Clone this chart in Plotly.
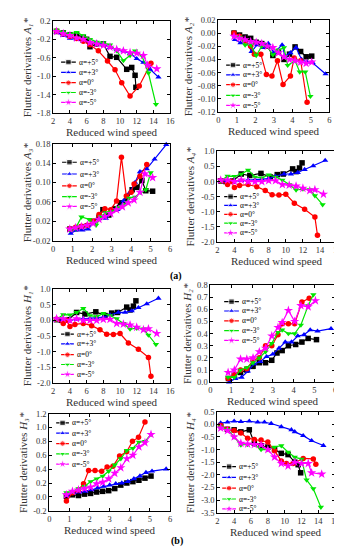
import plotly.graph_objects as go

W, H = 342, 550

# ---------------- data ----------------
series_names = ["α=+5°", "α=+3°", "α=0°", "α=-3°", "α=-5°"]
colors = ["#000000", "#0000FF", "#FF0000", "#00E600", "#FF00FF"]
symbols = ["square", "triangle-up", "circle", "triangle-down", "star"]

# A1*
a1_x_p5 = [2.4, 3.2, 4.0, 4.8, 5.6, 6.0, 6.4, 7.2, 8.0, 8.8, 9.6, 10.8, 11.4, 11.8, 11.9]
a1_y_p5 = [-0.03, -0.06, -0.1, -0.1, -0.16, -0.2, -0.36, -0.3, -0.3, -0.57, -0.59, -0.85, -0.81, -0.98, -1.24]
a1_x_p3 = [2.4, 3.2, 4.0, 4.8, 5.6, 6.4, 7.2, 8.0, 8.8, 9.6, 10.4, 11.2, 12.0, 12.8, 13.6, 14.6]
a1_y_p3 = [-0.05, -0.12, -0.18, -0.2, -0.25, -0.3, -0.27, -0.3, -0.38, -0.42, -0.45, -0.5, -0.62, -0.7, -0.85, -1.02]
a1_x_0 = [2.4, 3.2, 4.0, 4.8, 5.6, 6.4, 7.4, 8.5, 9.4, 10.2, 11.2, 12.3, 13.7]
a1_y_0 = [-0.02, -0.08, -0.14, -0.18, -0.24, -0.32, -0.45, -0.67, -0.86, -1.14, -1.43, -1.21, -0.72]
a1_x_m3 = [2.4, 3.2, 4.0, 4.8, 5.6, 6.4, 7.2, 8.0, 8.8, 9.6, 10.4, 11.2, 11.8, 12.6, 13.4, 14.3]
a1_y_m3 = [0.0, -0.04, -0.08, -0.05, -0.12, -0.2, -0.26, -0.28, -0.32, -0.45, -0.66, -0.55, -0.45, -0.55, -0.93, -1.61]
a1_x_m5 = [2.4, 3.2, 4.0, 4.8, 5.6, 6.4, 7.2, 8.0, 8.8, 9.6, 10.4, 11.2, 12.0, 12.8, 13.3, 14.4]
a1_y_m5 = [-0.03, -0.08, -0.12, -0.17, -0.2, -0.27, -0.3, -0.33, -0.37, -0.42, -0.45, -0.49, -0.5, -0.55, -0.76, -0.84]

# A2*
a2_x_p5 = [0.85, 1.15, 1.45, 1.75, 2.05, 2.35, 2.65, 2.95, 3.25, 3.55, 3.85, 4.15, 4.45, 4.75, 5.05]
a2_y_p5 = [0.0, -0.003, -0.006, -0.008, -0.014, -0.016, -0.02, -0.034, -0.028, -0.04, -0.032, -0.021, -0.028, -0.036, -0.035]
a2_x_p3 = [0.9, 1.2, 1.5, 1.8, 2.1, 2.4, 2.7, 3.0, 3.45, 3.6, 3.9, 4.2, 4.5, 4.8, 5.1, 5.8]
a2_y_p3 = [-0.01, -0.015, -0.012, -0.028, -0.018, -0.022, -0.016, -0.03, -0.018, -0.035, -0.03, -0.022, -0.04, -0.044, -0.045, -0.062]
a2_x_0 = [0.85, 1.15, 1.45, 1.75, 1.95, 2.3, 2.6, 2.9, 3.2, 3.5, 3.9, 4.1, 4.45, 4.8]
a2_y_0 = [0.0, -0.005, -0.012, -0.02, -0.032, -0.032, -0.063, -0.065, -0.042, -0.078, -0.065, -0.038, -0.042, -0.105]
a2_x_m3 = [0.85, 1.15, 1.45, 1.75, 2.05, 2.35, 2.65, 2.95, 3.25, 3.55, 3.75, 4.15, 4.4, 4.7, 4.98]
a2_y_m3 = [-0.005, -0.006, -0.018, -0.018, -0.034, -0.02, -0.02, -0.033, -0.026, -0.022, -0.049, -0.042, -0.059, -0.059, -0.096]
a2_x_m5 = [0.85, 1.15, 1.45, 1.75, 2.05, 2.35, 2.65, 2.95, 3.25, 3.55, 3.85, 4.15, 4.45, 4.75, 5.05]
a2_y_m5 = [-0.005, -0.008, -0.01, -0.013, -0.014, -0.016, -0.02, -0.022, -0.03, -0.036, -0.04, -0.042, -0.044, -0.046, -0.044]

# A3*
a3_x_p5 = [0.85, 1.15, 1.45, 1.75, 2.05, 2.35, 2.55, 2.85, 3.15, 3.45, 3.75, 4.05, 4.3, 4.55, 4.75, 5.1]
a3_y_p5 = [0.004, 0.005, 0.008, 0.011, 0.02, 0.028, 0.044, 0.033, 0.046, 0.058, 0.062, 0.085, 0.09, 0.104, 0.083, 0.082]
a3_x_p3 = [0.9, 1.2, 1.5, 1.8, 2.1, 2.4, 2.7, 3.0, 3.3, 3.6, 3.9, 4.2, 4.45, 4.8, 5.2, 5.8]
a3_y_p3 = [-0.005, 0.002, 0.002, 0.004, 0.02, 0.03, 0.026, 0.04, 0.044, 0.062, 0.078, 0.1, 0.122, 0.128, 0.148, 0.178]
a3_x_0 = [0.85, 1.15, 1.45, 1.75, 2.05, 2.35, 2.65, 2.95, 3.25, 3.5, 3.75, 4.0, 4.15, 4.45, 4.8]
a3_y_0 = [0.004, 0.008, 0.01, 0.012, 0.02, 0.034, 0.046, 0.044, 0.062, 0.152, 0.072, 0.08, 0.097, 0.113, 0.137]
a3_x_m3 = [0.85, 1.15, 1.45, 1.85, 2.2, 2.45, 2.7, 3.0, 3.3, 3.6, 3.9, 4.2, 4.5, 4.75, 5.0]
a3_y_m3 = [0.002, 0.006, 0.029, 0.024, 0.012, 0.03, 0.038, 0.04, 0.048, 0.052, 0.068, 0.07, 0.08, 0.085, 0.12]
a3_x_m5 = [0.85, 1.15, 1.45, 1.75, 2.05, 2.35, 2.65, 2.95, 3.25, 3.55, 3.85, 4.15, 4.45, 4.7, 5.1]
a3_y_m5 = [0.004, 0.007, 0.009, 0.012, 0.016, 0.024, 0.03, 0.036, 0.044, 0.05, 0.058, 0.064, 0.08, 0.118, 0.11]

# A4*
a4_x_p5 = [2.4, 3.0, 3.8, 4.8, 5.8, 7.1, 8.2, 9.0, 9.7, 10.8, 11.2, 11.6, 11.9]
a4_y_p5 = [0.02, 0.0, 0.02, 0.25, 0.2, 0.27, 0.15, 0.23, 0.25, 0.42, 0.33, 0.45, 0.62]
a4_x_p3 = [2.4, 3.2, 4.0, 4.8, 5.6, 6.4, 7.2, 8.0, 8.8, 9.8, 10.6, 11.4, 12.2, 13.2, 14.6]
a4_y_p3 = [0.0, 0.0, 0.02, 0.03, 0.05, 0.06, 0.08, 0.1, 0.17, 0.25, 0.25, 0.3, 0.4, 0.52, 0.7]
a4_x_0 = [2.4, 3.2, 3.6, 4.0, 4.6, 5.6, 6.6, 7.6, 8.4, 9.2, 10.0, 11.0, 12.2, 13.4, 13.7]
a4_y_0 = [0.03, -0.1, 0.0, -0.2, -0.13, -0.1, -0.17, -0.3, -0.44, -0.45, -0.42, -0.72, -0.92, -1.18, -1.78]
a4_x_m3 = [2.4, 3.2, 4.0, 4.8, 5.6, 6.4, 7.2, 8.0, 8.8, 9.6, 10.4, 11.2, 12.0, 12.8, 13.4, 14.3]
a4_y_m3 = [0.03, 0.18, 0.17, 0.25, 0.38, 0.15, 0.12, 0.22, 0.15, 0.05, -0.1, -0.28, -0.25, -0.27, -0.47, -0.77]
a4_x_m5 = [2.4, 3.2, 4.0, 4.8, 5.6, 6.4, 7.2, 8.0, 8.8, 9.6, 10.4, 11.2, 12.0, 12.8, 13.4, 14.4]
a4_y_m5 = [0.05, 0.05, 0.0, 0.05, 0.0, 0.0, 0.0, 0.03, 0.03, -0.1, -0.12, -0.15, -0.22, -0.3, -0.27, -0.42]

# H1*
h1_x_p5 = [2.4, 3.0, 3.8, 4.8, 5.8, 7.1, 8.2, 9.0, 9.7, 10.8, 11.2, 11.6, 11.9]
h1_y_p5 = [0.02, 0.0, 0.02, 0.25, 0.2, 0.27, 0.15, 0.23, 0.25, 0.42, 0.33, 0.45, 0.62]
h1_x_p3 = [2.4, 3.2, 4.0, 4.8, 5.6, 6.4, 7.2, 8.0, 8.8, 9.8, 10.6, 11.4, 12.2, 13.2, 14.6]
h1_y_p3 = [0.0, 0.0, 0.02, 0.03, 0.05, 0.06, 0.08, 0.1, 0.17, 0.25, 0.25, 0.3, 0.4, 0.52, 0.7]
h1_x_0 = [2.4, 3.2, 3.6, 4.0, 4.6, 5.6, 6.6, 7.6, 8.4, 9.2, 10.0, 11.0, 12.2, 13.4, 13.7]
h1_y_0 = [0.03, -0.1, 0.0, -0.2, -0.13, -0.1, -0.17, -0.3, -0.44, -0.45, -0.42, -0.72, -0.92, -1.18, -1.78]
h1_x_m3 = [2.4, 3.2, 4.0, 4.8, 5.6, 6.4, 7.2, 8.0, 8.8, 9.6, 10.4, 11.2, 12.0, 12.8, 13.4, 14.3]
h1_y_m3 = [0.03, 0.18, 0.17, 0.25, 0.38, 0.15, 0.12, 0.22, 0.15, 0.05, -0.1, -0.28, -0.25, -0.27, -0.47, -0.77]
h1_x_m5 = [2.4, 3.2, 4.0, 4.8, 5.6, 6.4, 7.2, 8.0, 8.8, 9.6, 10.4, 11.2, 12.0, 12.8, 13.4, 14.4]
h1_y_m5 = [0.05, 0.05, 0.0, 0.05, 0.0, 0.0, 0.0, 0.03, 0.03, -0.1, -0.12, -0.15, -0.22, -0.3, -0.27, -0.42]

# H2*
h2_x_p5 = [0.87, 1.15, 1.45, 1.75, 2.05, 2.35, 2.65, 2.95, 3.2, 3.45, 3.75, 4.1, 4.4, 4.7, 5.1]
h2_y_p5 = [0.03, 0.06, 0.08, 0.1, 0.13, 0.16, 0.16, 0.18, 0.24, 0.26, 0.3, 0.31, 0.33, 0.36, 0.35]
h2_x_p3 = [0.9, 1.2, 1.5, 1.8, 2.1, 2.4, 2.7, 3.0, 3.3, 3.6, 3.9, 4.2, 4.5, 4.8, 5.15, 5.8]
h2_y_p3 = [0.0, 0.03, 0.04, 0.09, 0.15, 0.17, 0.21, 0.23, 0.28, 0.33, 0.33, 0.38, 0.39, 0.43, 0.42, 0.44]
h2_x_0 = [0.85, 1.15, 1.45, 1.75, 2.05, 2.35, 2.65, 2.95, 3.25, 3.45, 3.75, 4.05, 4.4, 4.75]
h2_y_0 = [0.03, 0.06, 0.1, 0.11, 0.18, 0.2, 0.3, 0.3, 0.39, 0.48, 0.48, 0.48, 0.66, 0.69]
h2_x_m3 = [0.85, 1.15, 1.45, 1.75, 2.05, 2.35, 2.65, 2.95, 3.25, 3.45, 3.75, 4.05, 4.35, 4.7, 4.95]
h2_y_m3 = [0.04, 0.04, 0.1, 0.12, 0.16, 0.2, 0.25, 0.32, 0.41, 0.43, 0.4, 0.4, 0.47, 0.63, 0.72]
h2_x_m5 = [0.85, 1.15, 1.45, 1.75, 2.05, 2.35, 2.65, 2.95, 3.25, 3.45, 3.75, 4.05, 4.35, 4.7, 5.05]
h2_y_m5 = [0.08, 0.1, 0.19, 0.19, 0.2, 0.25, 0.28, 0.38, 0.45, 0.49, 0.59, 0.5, 0.63, 0.62, 0.67]

# H3*
h3_x_p5 = [0.85, 1.15, 1.45, 1.75, 2.05, 2.35, 2.65, 2.95, 3.25, 3.55, 3.85, 4.15, 4.45, 4.75, 5.05]
h3_y_p5 = [0.01, 0.03, 0.02, 0.04, 0.05, 0.07, 0.08, 0.09, 0.12, 0.17, 0.2, 0.22, 0.24, 0.27, 0.3]
h3_x_p3 = [0.9, 1.2, 1.5, 1.8, 2.1, 2.4, 2.7, 3.0, 3.3, 3.6, 3.9, 4.2, 4.5, 4.8, 5.1, 5.8]
h3_y_p3 = [0.02, 0.06, 0.07, 0.08, 0.1, 0.13, 0.15, 0.17, 0.19, 0.2, 0.22, 0.26, 0.3, 0.35, 0.37, 0.4]
h3_x_0 = [0.85, 1.15, 1.45, 1.7, 1.95, 2.27, 2.6, 2.87, 3.16, 3.49, 3.84, 4.13, 4.43, 4.75]
h3_y_0 = [-0.06, 0.06, 0.1, 0.19, 0.38, 0.38, 0.37, 0.43, 0.44, 0.59, 0.65, 0.8, 0.86, 1.08]
h3_x_m3 = [0.85, 1.15, 1.45, 1.75, 2.05, 2.35, 2.65, 2.95, 3.25, 3.55, 3.85, 4.15, 4.45, 4.75, 5.05]
h3_y_m3 = [0.06, 0.08, 0.12, 0.15, 0.22, 0.26, 0.3, 0.37, 0.46, 0.55, 0.67, 0.7, 0.79, 0.8, 0.9]
h3_x_m5 = [0.85, 1.15, 1.45, 1.75, 2.05, 2.35, 2.65, 2.95, 3.25, 3.55, 3.85, 4.15, 4.45, 4.75, 5.05]
h3_y_m5 = [0.03, 0.08, 0.1, 0.12, 0.14, 0.19, 0.21, 0.26, 0.34, 0.42, 0.55, 0.6, 0.72, 0.78, 0.9]

# H4*
h4_x_p5 = [2.4, 3.2, 4.0, 4.8, 5.8, 6.4, 7.2, 8.0, 8.8, 9.6, 10.4, 11.2, 11.6, 11.9]
h4_y_p5 = [-0.05, -0.2, -0.22, -0.3, -0.22, -0.75, -0.85, -0.9, -1.0, -1.15, -1.2, -1.5, -1.6, -1.92]
h4_x_p3 = [2.4, 3.2, 4.0, 4.8, 5.8, 6.8, 7.6, 8.4, 9.6, 10.8, 11.2, 12.2, 13.2, 14.6]
h4_y_p3 = [0.05, 0.08, 0.12, 0.1, 0.12, 0.08, 0.08, 0.03, -0.1, -0.22, -0.3, -0.45, -0.65, -0.84]
h4_x_0 = [2.4, 3.2, 4.0, 4.8, 5.6, 6.4, 7.2, 8.0, 8.8, 9.6, 10.2, 11.0, 12.2, 13.4, 13.7]
h4_y_0 = [-0.05, -0.2, -0.25, -0.35, -0.55, -0.6, -0.62, -0.7, -1.05, -1.45, -1.55, -1.55, -1.35, -1.37, -1.58]
h4_x_m3 = [2.4, 3.2, 4.0, 4.8, 5.6, 6.4, 7.2, 8.0, 8.8, 9.6, 10.4, 11.2, 12.0, 12.6, 13.4, 14.3]
h4_y_m3 = [-0.1, -0.2, -0.5, -0.82, -0.8, -0.8, -1.0, -1.0, -0.9, -0.85, -1.1, -1.3, -1.38, -2.2, -2.55, -3.28]
h4_x_m5 = [2.4, 3.2, 4.0, 4.8, 5.6, 6.4, 7.2, 8.0, 8.8, 9.6, 10.4, 11.2, 12.0, 12.8, 13.2, 14.4]
h4_y_m5 = [-0.15, -0.25, -0.5, -0.75, -0.78, -0.8, -0.82, -1.0, -1.3, -1.55, -1.65, -1.5, -1.55, -1.55, -1.92, -1.97]

# tick labels
xt_wide = [2, 4, 6, 8, 10, 12, 14, 16]
xt_narrow = [0, 1, 2, 3, 4, 5, 6]
yt_a1 = [0.2, -0.2, -0.6, -1.0, -1.4, -1.8]
yt_a2 = [0.02, 0.0, -0.02, -0.04, -0.06, -0.08, -0.10, -0.12]
yt_a3 = [0.18, 0.14, 0.10, 0.06, 0.02, -0.02]
yt_a4 = [1.0, 0.5, 0.0, -0.5, -1.0, -1.5, -2.0]
yt_h1 = [1.0, 0.5, 0.0, -0.5, -1.0, -1.5, -2.0]
yt_h2 = [0.0, 0.1, 0.2, 0.3, 0.4, 0.5, 0.6, 0.7, 0.8]
yt_h3 = [-0.2, 0.0, 0.2, 0.4, 0.6, 0.8, 1.0, 1.2]
yt_h4 = [0.5, 0.0, -0.5, -1.0, -1.5, -2.0, -2.5, -3.0, -3.5]

x_title = "Reduced wind speed"
y_title = "Flutter derivatives <i>%s%s*</i>"

# ---------------- layout of panels (pixel boxes) ----------------
FONT = "Liberation Serif"

panels = [
    dict(box=(44, 163, 8, 102), xr=(2, 16), yr=(-1.8, 0.2), xt=xt_wide, yt=yt_a1, dec=1, sym="A", sub="₁",
         xs=[a1_x_p5, a1_x_p3, a1_x_0, a1_x_m3, a1_x_m5], ys=[a1_y_p5, a1_y_p3, a1_y_0, a1_y_m3, a1_y_m5],
         leg_rows=[50, 60.5, 71, 81, 91], leg_x=(52, 67), ytx=17.5),
    dict(box=(212, 325, 7, 101), xr=(0, 6), yr=(-0.12, 0.02), xt=xt_narrow, yt=yt_a2, dec=2, sym="A", sub="₂",
         xs=[a2_x_p5, a2_x_p3, a2_x_0, a2_x_m3, a2_x_m5], ys=[a2_y_p5, a2_y_p3, a2_y_0, a2_y_m3, a2_y_m5],
         leg_rows=[53, 63, 73, 84, 94], leg_x=(220, 234), ytx=181.5),
    dict(box=(44, 163, 133, 232), xr=(0, 6), yr=(-0.02, 0.18), xt=xt_narrow, yt=yt_a3, dec=2, sym="A", sub="₃",
         xs=[a3_x_p5, a3_x_p3, a3_x_0, a3_x_m3, a3_x_m5], ys=[a3_y_p5, a3_y_p3, a3_y_0, a3_y_m3, a3_y_m5],
         leg_rows=[152, 164, 176, 187, 197], leg_x=(53, 68), ytx=17.5),
    dict(box=(211, 333, 141, 233), xr=(2, 16), yr=(-2.0, 1.0), xt=xt_wide, yt=yt_a4, dec=1, sym="A", sub="₄",
         xs=[a4_x_p5, a4_x_p3, a4_x_0, a4_x_m3, a4_x_m5], ys=[a4_y_p5, a4_y_p3, a4_y_0, a4_y_m3, a4_y_m5],
         leg_rows=[187, 196, 205, 214, 224], leg_x=(218, 231), ytx=183),
    dict(box=(44, 163, 281, 377), xr=(2, 16), yr=(-2.0, 1.0), xt=xt_wide, yt=yt_h1, dec=1, sym="H", sub="₁",
         xs=[h1_x_p5, h1_x_p3, h1_x_0, h1_x_m3, h1_x_m5], ys=[h1_y_p5, h1_y_p3, h1_y_0, h1_y_m3, h1_y_m5],
         leg_rows=[327, 337, 348, 358, 368], leg_x=(52, 65), ytx=17.5),
    dict(box=(204, 331, 277, 376), xr=(0, 6), yr=(0.0, 0.8), xt=xt_narrow, yt=yt_h2, dec=1, sym="H", sub="₂",
         xs=[h2_x_p5, h2_x_p3, h2_x_0, h2_x_m3, h2_x_m5], ys=[h2_y_p5, h2_y_p3, h2_y_0, h2_y_m3, h2_y_m5],
         leg_rows=[294, 303.5, 313.5, 323.5, 333.5], leg_x=(218, 233), ytx=179.5),
    dict(box=(40, 163, 408, 507), xr=(0, 6), yr=(-0.2, 1.2), xt=xt_narrow, yt=yt_h3, dec=1, sym="H", sub="₃",
         xs=[h3_x_p5, h3_x_p3, h3_x_0, h3_x_m3, h3_x_m5], ys=[h3_y_p5, h3_y_p3, h3_y_0, h3_y_m3, h3_y_m5],
         leg_rows=[417.5, 428, 438.5, 449, 459.5], leg_x=(47, 60), ytx=13),
    dict(box=(211, 331, 406, 509), xr=(2, 16), yr=(-3.5, 0.5), xt=xt_wide, yt=yt_h4, dec=1, sym="H", sub="₄",
         xs=[h4_x_p5, h4_x_p3, h4_x_0, h4_x_m3, h4_x_m5], ys=[h4_y_p5, h4_y_p3, h4_y_0, h4_y_m3, h4_y_m5],
         leg_rows=[462, 473, 484, 495, 505], leg_x=(216, 230), ytx=183),
]

fig = go.Figure()
layout = dict(width=W, height=H, margin=dict(l=0, r=0, t=0, b=0),
              paper_bgcolor="white", plot_bgcolor="white", showlegend=False,
              font=dict(family=FONT, color="black", size=10))
annotations = []

for i, p in enumerate(panels):
    n = i + 1
    sfx = "" if n == 1 else str(n)
    L, R, T, B = p["box"]
    xa, ya = "x" + sfx, "y" + sfx
    fmt = "{:.%df}" % p["dec"]
    layout["xaxis" + sfx] = dict(
        domain=[L / W, R / W], anchor=ya, range=list(p["xr"]),
        tickvals=p["xt"], ticktext=[str(v) for v in p["xt"]],
        showline=True, mirror="ticks", linecolor="black", linewidth=1,
        ticks="inside", ticklen=3, tickcolor="black", showgrid=False, zeroline=False,
        tickfont=dict(family=FONT, size=8.5, color="#333"),
    )
    layout["yaxis" + sfx] = dict(
        domain=[1 - B / H, 1 - T / H], anchor=xa, range=list(p["yr"]),
        tickvals=p["yt"], ticktext=[fmt.format(v) for v in p["yt"]],
        showline=True, mirror="ticks", linecolor="black", linewidth=1,
        ticks="inside", ticklen=3, tickcolor="black", showgrid=False, zeroline=False,
        tickfont=dict(family=FONT, size=8.5, color="#333"),
    )
    # axis titles
    annotations.append(dict(
        x=(L + R) / 2 / W, y=1 - (B + 19.5) / H, xref="paper", yref="paper", text=x_title,
        showarrow=False, xanchor="center", yanchor="middle",
        font=dict(family=FONT, size=11, color="#333")))
    annotations.append(dict(
        x=p["ytx"] / W, y=1 - (T + B) / 2 / H, xref="paper", yref="paper",
        text=y_title % (p["sym"], p["sub"]), textangle=-90,
        showarrow=False, xanchor="center", yanchor="middle",
        font=dict(family=FONT, size=11, color="#333")))
    # data traces
    for k in range(5):
        fig.add_trace(go.Scatter(
            x=p["xs"][k], y=p["ys"][k], xaxis=xa, yaxis=ya, mode="lines+markers",
            name=series_names[k], line=dict(color=colors[k], width=1.2),
            marker=dict(symbol=symbols[k], size=5.5 if k != 4 else 7, color=colors[k]),
            cliponaxis=False,
        ))
    # legend keys (positions converted from pixel layout to data units)
    x0, x1 = p["xr"]
    y0, y1 = p["yr"]
    def px2x(px):
        return x0 + (px - L) / (R - L) * (x1 - x0)
    def py2y(py):
        return y1 - (py - T) / (B - T) * (y1 - y0)
    kx0, kx1 = p["leg_x"]
    for k in range(5):
        yy = py2y(p["leg_rows"][k])
        fig.add_trace(go.Scatter(
            x=[px2x(kx0), px2x((kx0 + kx1) / 2), px2x(kx1)], y=[yy, yy, yy],
            xaxis=xa, yaxis=ya, mode="lines+markers", showlegend=False, hoverinfo="skip",
            line=dict(color=colors[k], width=1.2),
            marker=dict(symbol=symbols[k], size=[0, 5.5 if k != 4 else 7, 0], color=colors[k]),
        ))
        annotations.append(dict(
            x=(kx1 + 1) / W, y=1 - p["leg_rows"][k] / H, xref="paper", yref="paper",
            text=series_names[k], showarrow=False, xanchor="left", yanchor="middle",
            font=dict(family=FONT, size=7.5, color="black"),
        ))

annotations.append(dict(x=169 / W, y=1 - 268 / H, xref="paper", yref="paper", text="<b>(a)</b>",
                        showarrow=False, font=dict(family=FONT, size=10, color="black")))
annotations.append(dict(x=170 / W, y=1 - 546 / H, xref="paper", yref="paper", text="<b>(b)</b>",
                        showarrow=False, font=dict(family=FONT, size=10, color="black")))
layout["annotations"] = annotations
fig.update_layout(**layout)
fig.write_html("out.html")
